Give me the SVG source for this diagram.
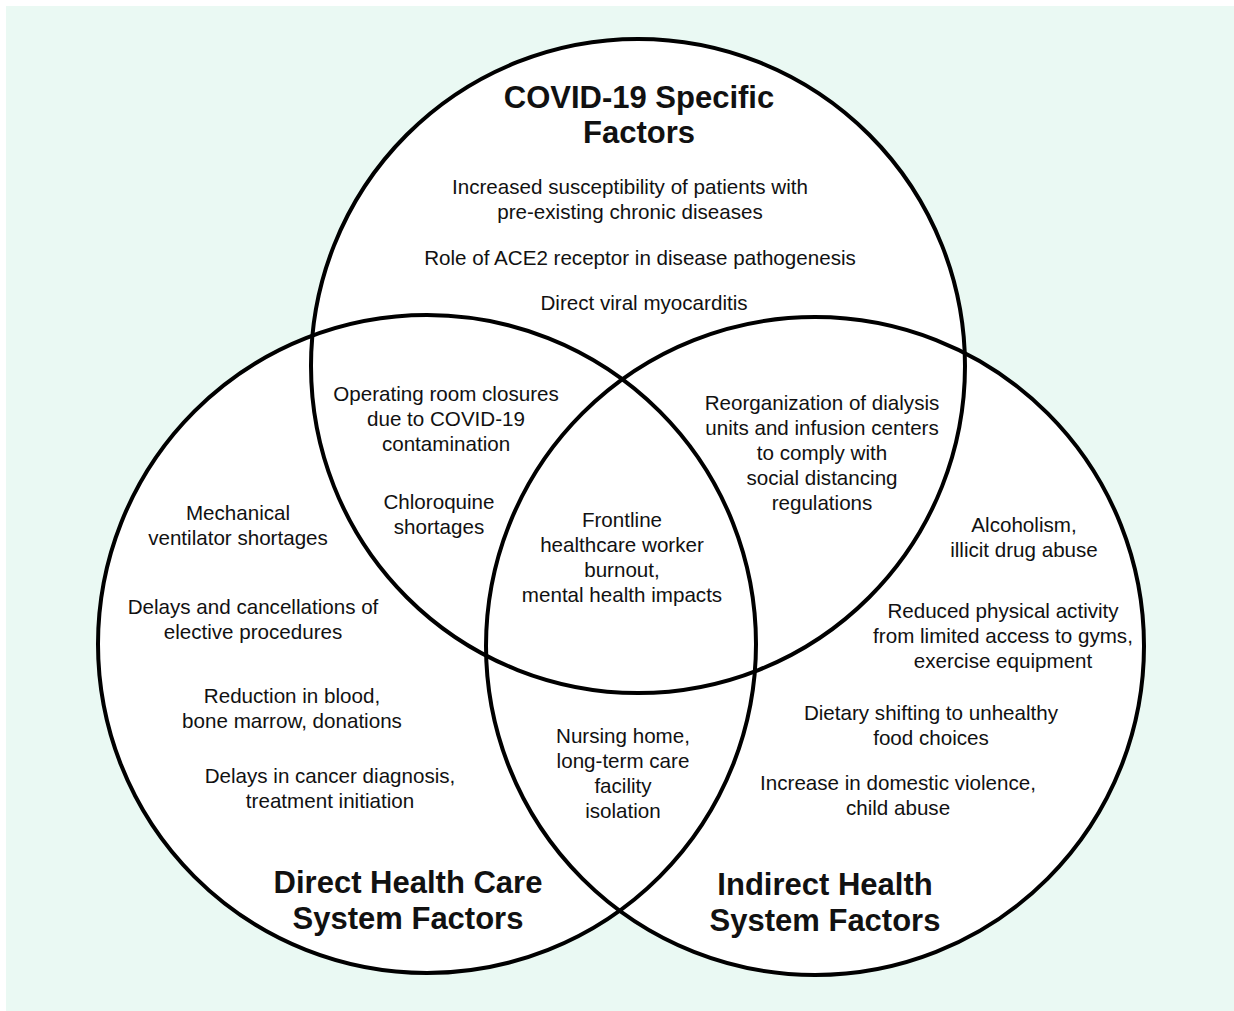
<svg xmlns="http://www.w3.org/2000/svg" width="1234" height="1011" viewBox="0 0 1234 1011">
<style>
.bg{fill:#eaf9f3}
.fill{fill:#ffffff;stroke:none}
.ring{fill:none;stroke:#000;stroke-width:4}
text{font-family:"Liberation Sans",Arial,sans-serif;fill:#111;text-anchor:middle}
.b{font-size:20.6px}
.t{font-size:31px;font-weight:bold}
</style>
<rect x="0" y="0" width="1234" height="1011" fill="#ffffff"/>
<rect class="bg" x="6" y="6" width="1228" height="1005"/>
<g id="fills">
<circle class="fill" cx="638" cy="366" r="327"/>
<circle class="fill" cx="427" cy="644" r="329"/>
<circle class="fill" cx="815" cy="646" r="329"/>
</g>
<g id="connectors">
<circle class="ring" cx="638" cy="366" r="327"/>
<circle class="ring" cx="427" cy="644" r="329"/>
<circle class="ring" cx="815" cy="646" r="329"/>
</g>
<g id="covid">
<text class="t" x="639" y="108">COVID-19 Specific</text>
<text class="t" x="639" y="143">Factors</text>
<text class="b" x="630" y="194">Increased susceptibility of patients with</text>
<text class="b" x="630" y="219">pre-existing chronic diseases</text>
<text class="b" x="640" y="265">Role of ACE2 receptor in disease pathogenesis</text>
<text class="b" x="644" y="310">Direct viral myocarditis</text>
</g>
<g id="covid-direct">
<text class="b" x="446" y="401">Operating room closures</text>
<text class="b" x="446" y="426">due to COVID-19</text>
<text class="b" x="446" y="451">contamination</text>
<text class="b" x="439" y="509">Chloroquine</text>
<text class="b" x="439" y="534">shortages</text>
</g>
<g id="covid-indirect">
<text class="b" x="822" y="410">Reorganization of dialysis</text>
<text class="b" x="822" y="435">units and infusion centers</text>
<text class="b" x="822" y="460">to comply with</text>
<text class="b" x="822" y="485">social distancing</text>
<text class="b" x="822" y="510">regulations</text>
</g>
<g id="center">
<text class="b" x="622" y="527">Frontline</text>
<text class="b" x="622" y="552">healthcare worker</text>
<text class="b" x="622" y="577">burnout,</text>
<text class="b" x="622" y="602">mental health impacts</text>
</g>
<g id="direct">
<text class="b" x="238" y="520">Mechanical</text>
<text class="b" x="238" y="545">ventilator shortages</text>
<text class="b" x="253" y="614">Delays and cancellations of</text>
<text class="b" x="253" y="639">elective procedures</text>
<text class="b" x="292" y="703">Reduction in blood,</text>
<text class="b" x="292" y="728">bone marrow, donations</text>
<text class="b" x="330" y="783">Delays in cancer diagnosis,</text>
<text class="b" x="330" y="808">treatment initiation</text>
<text class="t" x="408" y="893">Direct Health Care</text>
<text class="t" x="408" y="929">System Factors</text>
</g>
<g id="direct-indirect">
<text class="b" x="623" y="743">Nursing home,</text>
<text class="b" x="623" y="768">long-term care</text>
<text class="b" x="623" y="793">facility</text>
<text class="b" x="623" y="818">isolation</text>
</g>
<g id="indirect">
<text class="b" x="1024" y="532">Alcoholism,</text>
<text class="b" x="1024" y="557">illicit drug abuse</text>
<text class="b" x="1003" y="618">Reduced physical activity</text>
<text class="b" x="1003" y="643">from limited access to gyms,</text>
<text class="b" x="1003" y="668">exercise equipment</text>
<text class="b" x="931" y="720">Dietary shifting to unhealthy</text>
<text class="b" x="931" y="745">food choices</text>
<text class="b" x="898" y="790">Increase in domestic violence,</text>
<text class="b" x="898" y="815">child abuse</text>
<text class="t" x="825" y="895">Indirect Health</text>
<text class="t" x="825" y="931">System Factors</text>
</g>
</svg>
